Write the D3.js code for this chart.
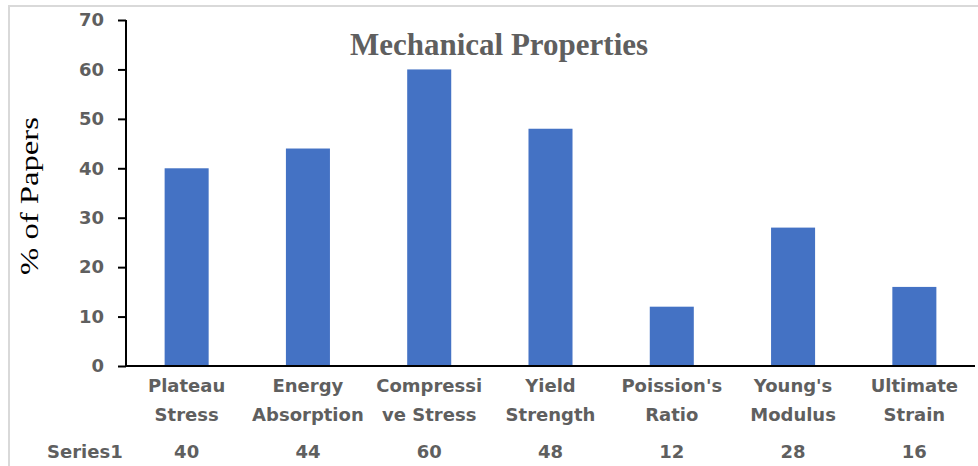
<!DOCTYPE html>
<html>
<head>
<meta charset="utf-8">
<script src="https://cdn.jsdelivr.net/npm/d3@7"></script>
<style>
  html, body { margin: 0; padding: 0; background: #fff; }
  svg { display: block; }
</style>
</head>
<body>
<svg id="chart" width="978" height="466"></svg>
<script>
// Share of papers reporting each mechanical property
const categories = ["Plateau Stress", "Energy Absorption", "Compressive Stress",
  "Yield Strength", "Poission's Ratio", "Young's Modulus", "Ultimate Strain"];
const categoryLines = [["Plateau", "Stress"], ["Energy", "Absorption"], ["Compressi", "ve Stress"],
  ["Yield", "Strength"], ["Poission's", "Ratio"], ["Young's", "Modulus"], ["Ultimate", "Strain"]];
const seriesName = "Series1";
const values = [40, 44, 60, 48, 12, 28, 16];
const yTicks = [0, 10, 20, 30, 40, 50, 60, 70];

const svg = d3.select("#chart");
const labelFont = "'DejaVu Sans', sans-serif";
const grey = "#5f5f5f";

// Chart frame
svg.append("rect")
  .attr("x", 9).attr("y", 6)
  .attr("width", 1000).attr("height", 480)
  .attr("fill", "#fff")
  .attr("stroke", "#d9d9d9")
  .attr("stroke-width", 2);

const x = d3.scaleBand()
  .domain(categories)
  .range([126, 975])
  .paddingInner(0.637)
  .paddingOuter(0.3185);

const y = d3.scaleLinear().domain([0, 70]).range([366, 20]);

// Bars
svg.append("g")
  .selectAll("rect")
  .data(values)
  .join("rect")
  .attr("x", (d, i) => x(categories[i]))
  .attr("y", d => y(d))
  .attr("width", x.bandwidth())
  .attr("height", d => y(0) - y(d))
  .attr("fill", "#4472C4");

// Y axis
const yAxis = svg.append("g")
  .attr("transform", `translate(126,0)`)
  .call(d3.axisLeft(y).tickValues(yTicks).tickSize(8).tickPadding(14).tickFormat(d3.format("d")));
yAxis.select(".domain").attr("stroke", "#000").attr("stroke-width", 2)
  .attr("d", `M0,${y(70)}V${y(0)}`);
yAxis.selectAll(".tick line").attr("stroke", "#000").attr("stroke-width", 2);
yAxis.selectAll(".tick text")
  .attr("fill", grey)
  .attr("font-family", labelFont)
  .attr("font-weight", "bold")
  .attr("font-size", 18);

// X axis baseline
const xAxis = svg.append("g")
  .attr("transform", `translate(0,${y(0)})`)
  .call(d3.axisBottom(x).tickSize(0).tickFormat(""));
xAxis.select(".domain").attr("stroke", "#000").attr("stroke-width", 2)
  .attr("d", `M126,0H975`);

// Category labels (two lines each)
const catLabels = svg.append("g")
  .selectAll("text")
  .data(categories)
  .join("text")
  .attr("text-anchor", "middle")
  .attr("fill", grey)
  .attr("font-family", labelFont)
  .attr("font-weight", "bold")
  .attr("font-size", 18);
catLabels.each(function (c, i) {
  const cx = x(c) + x.bandwidth() / 2;
  d3.select(this).selectAll("tspan")
    .data(categoryLines[i])
    .join("tspan")
    .attr("x", cx)
    .attr("y", (d, j) => 392 + j * 29)
    .text(d => d);
});

// Data table row
svg.append("text")
  .attr("x", 47).attr("y", 458)
  .attr("fill", grey)
  .attr("font-family", labelFont)
  .attr("font-weight", "bold")
  .attr("font-size", 18)
  .text(seriesName);

svg.append("g")
  .selectAll("text")
  .data(values)
  .join("text")
  .attr("x", (d, i) => x(categories[i]) + x.bandwidth() / 2)
  .attr("y", 458)
  .attr("text-anchor", "middle")
  .attr("fill", grey)
  .attr("font-family", labelFont)
  .attr("font-weight", "bold")
  .attr("font-size", 18)
  .text(d => d);

// Chart title
svg.append("text")
  .attr("x", 499).attr("y", 55)
  .attr("text-anchor", "middle")
  .attr("fill", grey)
  .attr("font-family", "'Liberation Serif', 'Times New Roman', serif")
  .attr("font-weight", "bold")
  .attr("font-size", 31)
  .text("Mechanical Properties");

// Y axis title
svg.append("text")
  .attr("transform", `translate(38,196) rotate(-90)`)
  .attr("text-anchor", "middle")
  .attr("fill", "#000")
  .attr("font-family", "'Liberation Serif', 'Times New Roman', serif")
  .attr("font-size", 25)
  .attr("textLength", 158)
  .attr("lengthAdjust", "spacingAndGlyphs")
  .text("% of Papers");
</script>
</body>
</html>
